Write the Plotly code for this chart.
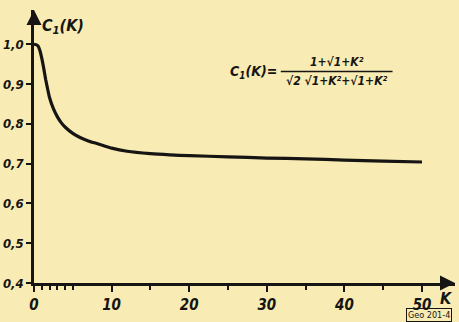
import plotly.graph_objects as go

# Data
K_values = [0, 0.25, 0.5, 0.75, 1, 1.25, 1.5, 1.75, 2, 2.5, 3, 3.5, 4, 5, 6, 7, 8, 9, 10,
            12, 15, 17.5, 20, 25, 30, 35, 40, 45, 50]
C1_values = [1.0, 0.999, 0.996, 0.985, 0.965, 0.94, 0.912, 0.888, 0.866, 0.838, 0.818, 0.803,
             0.792, 0.776, 0.765, 0.757, 0.751, 0.745, 0.739, 0.731, 0.725, 0.722, 0.720,
             0.717, 0.714, 0.712, 0.709, 0.706, 0.704]

x_tickvals = [0, 10, 20, 30, 40, 50]
x_ticktext = ["0", "10", "20", "30", "40", "50"]
x_minor_ticks = [1, 2, 3, 4, 5, 15, 25, 35, 45]
y_tickvals = [0.4, 0.5, 0.6, 0.7, 0.8, 0.9, 1.0]
y_ticktext = ["0,4", "0,5", "0,6", "0,7", "0,8", "0,9", "1,0"]

INK = "#161513"
BG = "#f8ecb4"
FONT = "Liberation Sans Narrow, DejaVu Sans Condensed, sans-serif"

fig = go.Figure()
fig.add_trace(go.Scatter(x=K_values, y=C1_values, mode="lines",
                         line=dict(color=INK, width=3.2, shape="spline", smoothing=0.5),
                         hoverinfo="skip", showlegend=False))

XMAX, YMIN, YMAX = 54.25, 0.4, 1.086

tickfont = dict(family=FONT, size=13, color=INK, style="italic", weight="bold")
fig.update_layout(
    width=459, height=322,
    margin=dict(l=34, r=4, t=10, b=39),
    paper_bgcolor=BG, plot_bgcolor=BG,
    xaxis=dict(range=[0, XMAX], tickvals=x_tickvals, ticktext=x_ticktext, automargin=False,
               ticks="outside", ticklen=6, tickwidth=2, tickcolor=INK,
               showline=True, linewidth=2.5, linecolor=INK,
               showgrid=False, zeroline=False, tickfont=dict(tickfont, size=15),
               minor=dict(tickvals=x_minor_ticks, ticks="outside", ticklen=4,
                          tickwidth=1.5, tickcolor=INK, showgrid=False)),
    yaxis=dict(range=[YMIN, YMAX], tickvals=y_tickvals, ticktext=y_ticktext, automargin=False,
               ticks="outside", ticklen=5, tickwidth=2, tickcolor=INK,
               showline=True, linewidth=2.5, linecolor=INK,
               showgrid=False, zeroline=False, tickfont=tickfont),
)

# axis arrowheads
fig.add_annotation(x=XMAX, y=YMIN, ax=-12, ay=0, xref="x", yref="y", text="",
                   showarrow=True, arrowhead=2, arrowsize=1.2, arrowwidth=2.5, arrowcolor=INK)
fig.add_annotation(x=0, y=YMAX, ax=0, ay=14, xref="x", yref="y", text="",
                   showarrow=True, arrowhead=2, arrowsize=1.2, arrowwidth=2.5, arrowcolor=INK)

lab = dict(family=FONT, color=INK, style="italic", weight="bold")
fig.add_annotation(x=0.8, y=1.045, xref="x", yref="y", text="C<sub>1</sub>(K)",
                   showarrow=False, xanchor="left", font=dict(lab, size=16))
fig.add_annotation(x=53.2, y=YMIN, xref="x", yref="y", yshift=-15, text="K",
                   showarrow=False, font=dict(lab, size=16))
fig.add_annotation(x=53.9, y=YMIN, xref="x", yref="y", yshift=-32, xanchor="right",
                   text="Geo 201-4", showarrow=False, bordercolor=INK, borderwidth=1,
                   borderpad=1, font=dict(family=FONT, size=9, color=INK))

# formula
fig.add_annotation(x=31.6, y=0.930, xref="x", yref="y", xanchor="right",
                   text="C<sub>1</sub>(K)=", showarrow=False, font=dict(lab, size=14))
fig.add_annotation(x=39.0, y=0.956, xref="x", yref="y",
                   text="1+√1+K²", showarrow=False, font=dict(lab, size=12))
fig.add_shape(type="line", x0=31.8, x1=46.2, y0=0.9315, y1=0.9315, xref="x", yref="y",
              line=dict(color=INK, width=1.5))
fig.add_annotation(x=39.0, y=0.907, xref="x", yref="y",
                   text="√2 √1+K²+√1+K²", showarrow=False, font=dict(lab, size=12))

fig.write_html("out.html", config={"displayModeBar": False},
               post_script="document.body.style.margin='0';"
                           "document.body.style.background='" + BG + "';")
